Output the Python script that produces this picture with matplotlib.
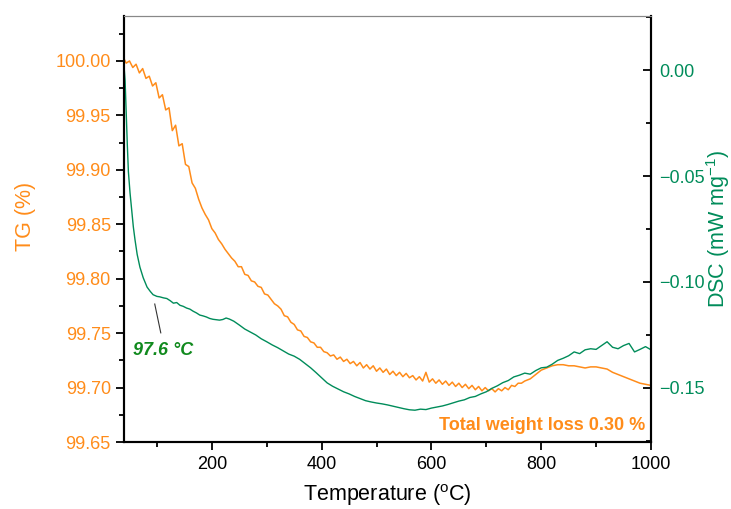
import matplotlib
matplotlib.use("Agg")
import matplotlib.pyplot as plt
from matplotlib.ticker import MultipleLocator

plt.rcParams['font.family'] = ['Liberation Sans', 'DejaVu Sans']
plt.rcParams['mathtext.fontset'] = 'custom'
plt.rcParams['mathtext.rm'] = 'Liberation Sans'

# TG curve (temperature in C, mass in %)
tg_temp = [38, 44, 50, 56, 62, 68, 74, 80, 86, 92, 98, 104, 110, 116, 122, 128, 134, 140, 146, 152,
           158, 164, 170, 176, 182, 188, 194, 200, 206, 212, 218, 224, 230, 236, 242, 248, 254, 260,
           266, 272, 278, 284, 290, 296, 302, 308, 314, 320, 326, 332, 338, 344, 350, 356, 362, 368,
           374, 380, 386, 392, 398, 404, 410, 416, 422, 428, 434, 440, 446, 452, 458, 464, 470, 476,
           482, 488, 494, 500, 506, 512, 518, 524, 530, 536, 542, 548, 554, 560, 566, 572, 578, 584,
           590, 596, 602, 608, 614, 620, 626, 632, 638, 644, 650, 656, 662, 668, 674, 680, 686, 692,
           698, 704, 710, 716, 722, 728, 734, 740, 746, 752, 758, 764, 770, 780, 790, 800, 810, 820,
           830, 840, 850, 860, 870, 880, 890, 900, 910, 920, 930, 940, 950, 960, 970, 980, 990, 1000]
tg_mass = [100.004, 99.998, 100.000, 99.994, 99.997, 99.989, 99.993, 99.984, 99.986, 99.977,
           99.980, 99.966, 99.969, 99.955, 99.957, 99.936, 99.941, 99.922, 99.924, 99.905,
           99.903, 99.888, 99.883, 99.873, 99.865, 99.859, 99.854, 99.846, 99.842, 99.836,
           99.832, 99.827, 99.823, 99.819, 99.816, 99.811, 99.811, 99.804, 99.803, 99.798,
           99.797, 99.793, 99.792, 99.786, 99.785, 99.781, 99.777, 99.775, 99.772, 99.766,
           99.765, 99.760, 99.758, 99.753, 99.752, 99.747, 99.746, 99.742, 99.741, 99.737,
           99.737, 99.733, 99.732, 99.729, 99.730, 99.726, 99.728, 99.724, 99.726, 99.722,
           99.724, 99.720, 99.723, 99.718, 99.721, 99.717, 99.720, 99.715, 99.718, 99.714,
           99.717, 99.712, 99.715, 99.711, 99.714, 99.710, 99.713, 99.709, 99.711, 99.707,
           99.710, 99.706, 99.714, 99.705, 99.708, 99.704, 99.707, 99.703, 99.706, 99.702,
           99.705, 99.701, 99.704, 99.700, 99.703, 99.699, 99.702, 99.698, 99.701, 99.697,
           99.700, 99.697, 99.699, 99.696, 99.699, 99.697, 99.700, 99.698, 99.702, 99.701,
           99.704, 99.704, 99.706, 99.708, 99.712, 99.716, 99.718, 99.720, 99.721, 99.721,
           99.720, 99.720, 99.719, 99.718, 99.719, 99.719, 99.718, 99.717, 99.714, 99.712,
           99.710, 99.708, 99.706, 99.704, 99.703, 99.702]

# DSC curve (temperature in C, heat flow in mW/mg)
dsc_temp = [38, 40, 42, 44, 46, 48, 51, 54, 57, 60, 64, 69, 75, 82, 88, 93, 100, 105, 112, 118,
            124, 130, 136, 142, 148, 154, 160, 166, 172, 178, 184, 190, 196, 202, 208, 214, 220,
            226, 232, 240, 250, 260, 270, 280, 290, 300, 310, 320, 330, 340, 350, 360, 370, 380,
            390, 400, 410, 420, 430, 440, 450, 460, 470, 480, 490, 500, 510, 520, 530, 540, 550,
            560, 570, 580, 590, 600, 610, 620, 630, 640, 650, 660, 670, 680, 690, 700, 710, 720,
            730, 740, 750, 760, 770, 780, 790, 800, 810, 820, 830, 840, 850, 860, 870, 880, 890,
            900, 910, 920, 930, 940, 950, 960, 970, 980, 990, 1000]
dsc_flow = [0.006, 0.002, -0.005, -0.020, -0.035, -0.048, -0.058, -0.066, -0.074, -0.080,
            -0.087, -0.093, -0.098, -0.1024, -0.1045, -0.106, -0.1068, -0.107, -0.1075, -0.1078,
            -0.1088, -0.110, -0.1097, -0.111, -0.1115, -0.1123, -0.1128, -0.1138, -0.1146, -0.1156,
            -0.1160, -0.1165, -0.1172, -0.1176, -0.1178, -0.118, -0.1177, -0.1170, -0.1175, -0.1185,
            -0.1203, -0.1222, -0.1236, -0.1250, -0.1268, -0.1282, -0.1297, -0.1310, -0.1325, -0.1340,
            -0.1350, -0.1365, -0.1385, -0.1405, -0.1428, -0.1452, -0.1476, -0.1492, -0.1505, -0.1518,
            -0.1528, -0.1540, -0.1550, -0.1560, -0.1566, -0.1571, -0.1575, -0.1580, -0.1586, -0.1592,
            -0.1598, -0.1603, -0.1605, -0.1600, -0.1602, -0.1595, -0.1590, -0.1585, -0.1578, -0.1570,
            -0.1562, -0.1556, -0.1545, -0.1540, -0.1528, -0.1518, -0.1502, -0.1490, -0.1475, -0.1465,
            -0.1448, -0.1440, -0.1430, -0.1435, -0.1418, -0.1405, -0.1402, -0.1388, -0.1370, -0.1360,
            -0.1348, -0.1330, -0.1338, -0.1320, -0.1315, -0.1318, -0.1300, -0.1282, -0.1308, -0.1315,
            -0.1300, -0.1290, -0.1330, -0.1318, -0.1305, -0.1320]

peak_label = "97.6 °C"
loss_label = "Total weight loss 0.30 %"

orange = "#FF8C1A"
green = "#008C5A"

fig = plt.figure(figsize=(7.31, 5.09), dpi=100)
ax = fig.add_axes([124 / 731, 67 / 509, 527 / 731, 426 / 509])
ax2 = ax.twinx()

ax.plot(tg_temp, tg_mass, color=orange, lw=1.1)
ax2.plot(dsc_temp, dsc_flow, color=green, lw=1.0)

ax.set_xlim(40, 1000)
ax.set_ylim(99.65, 100.0413)
ax2.set_ylim(-0.1755, 0.0255)

ax.xaxis.set_major_locator(MultipleLocator(200))
ax.xaxis.set_minor_locator(MultipleLocator(100))
ax.yaxis.set_major_locator(MultipleLocator(0.05))
ax.yaxis.set_minor_locator(MultipleLocator(0.025))
ax2.yaxis.set_major_locator(MultipleLocator(0.05))
ax2.yaxis.set_minor_locator(MultipleLocator(0.025))
ax.yaxis.set_major_formatter(plt.FormatStrFormatter("%.2f"))
ax2.yaxis.set_major_formatter(plt.FuncFormatter(lambda v, p: ("%.2f" % v).replace("-", "\u2212")))

ax.tick_params(axis="x", which="major", direction="out", length=6, width=1.3, labelsize=13, pad=4)
ax.tick_params(axis="x", which="minor", direction="out", length=3.5, width=1.3)
ax.tick_params(axis="y", which="major", direction="out", length=6, width=1.3, labelsize=13,
               labelcolor=orange)
ax.tick_params(axis="y", which="minor", direction="out", length=3.5, width=1.3)
ax2.tick_params(axis="y", which="major", direction="in", length=6, width=1.3, labelsize=13,
                labelcolor=green, pad=6)
ax2.tick_params(axis="y", which="minor", direction="in", length=3.5, width=1.3)

for a in (ax, ax2):
    a.spines["top"].set_color("#888888")
    a.spines["top"].set_linewidth(0.8)
    for s in ("left", "right", "bottom"):
        a.spines[s].set_linewidth(1.5)
        a.spines[s].set_color("black")

ax.set_xlabel("Temperature ($^{\\mathrm{o}}$C)", fontsize=15.5, labelpad=7)
ax.set_ylabel("TG (%)", fontsize=15.5, color=orange)
ax.yaxis.set_label_coords(-0.167, 0.53)
ax2.set_ylabel("DSC (mW mg$^{\\mathrm{-1}}$)", fontsize=15.5, color=green)
ax2.yaxis.set_label_coords(1.1, 0.5)

# annotation of the DSC shoulder
ax2.plot([96, 107], [-0.1104, -0.124], color="#333333", lw=0.8)
ax2.text(57, -0.1321, peak_label, fontsize=13, fontweight="bold", fontstyle="italic",
         color="#118A1E", ha="left", va="center")
ax2.text(989, -0.1675, loss_label, fontsize=13, fontweight="bold", color=orange,
         ha="right", va="center")

fig.savefig("out.png", dpi=100)
